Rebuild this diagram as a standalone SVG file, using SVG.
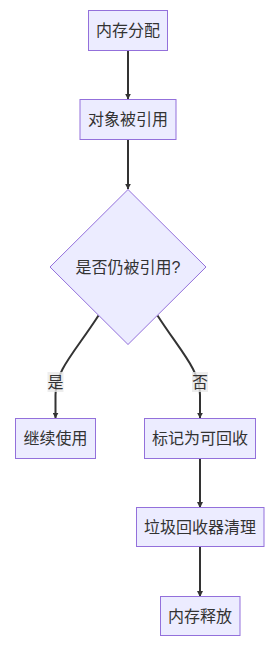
<svg xmlns="http://www.w3.org/2000/svg" width="270" height="648" viewBox="0 0 270 648">
<defs>
<style>
.node rect,.node polygon{fill:#ECECFF;stroke:#9370DB;stroke-width:1px}
.node text,.lbl text{font-family:"Liberation Sans","Noto Sans CJK SC",sans-serif;font-size:16px;fill:#333;text-anchor:middle;dominant-baseline:central}
.edge{fill:none;stroke:#333;stroke-width:2px}
.lbl rect{fill:#e8e8e8;opacity:0.8}
</style>
<marker id="arrow" viewBox="0 0 10 10" refX="9" refY="5" markerWidth="6" markerHeight="6" markerUnits="userSpaceOnUse" orient="auto">
<path d="M0,0 L10,5 L0,10 z" fill="#333"/>
</marker>
</defs>
<rect width="270" height="648" fill="#ffffff"/>
<g id="edges">
<path class="edge" d="M128,50.5 L128,99" marker-end="url(#arrow)"/>
<path class="edge" d="M128,139.5 L128,189" marker-end="url(#arrow)"/>
<path class="edge" d="M98.5,315.5 C75,352 55.5,370 55.5,395 L55.5,418" marker-end="url(#arrow)"/>
<path class="edge" d="M157.5,315.5 C181,352 200,370 200,395 L200,418" marker-end="url(#arrow)"/>
<path class="edge" d="M200,458.5 L200,507.5" marker-end="url(#arrow)"/>
<path class="edge" d="M200,547 L200,596.5" marker-end="url(#arrow)"/>
</g>
<g id="edge-labels">
<g class="lbl" id="label-yes"><rect x="47.5" y="372" width="16" height="20"/><text x="55.5" y="382">是</text></g>
<g class="lbl" id="label-no"><rect x="192" y="372" width="16" height="20"/><text x="200" y="382">否</text></g>
</g>
<g class="node" id="n1"><rect x="88.5" y="10.5" width="79" height="40"/><text x="128" y="30.5">内存分配</text></g>
<g class="node" id="n2"><rect x="80" y="99.5" width="96" height="40"/><text x="128" y="119.5">对象被引用</text></g>
<g class="node" id="n3"><polygon points="128,189.5 206,267 128,344.5 50,267"/><text x="128" y="267">是否仍被引用?</text></g>
<g class="node" id="n4"><rect x="15.5" y="418.5" width="80" height="40"/><text x="55.5" y="438.5">继续使用</text></g>
<g class="node" id="n5"><rect x="144.5" y="418.5" width="111" height="40"/><text x="200" y="438.5">标记为可回收</text></g>
<g class="node" id="n6"><rect x="136.5" y="507.5" width="127.5" height="39"/><text x="200" y="527">垃圾回收器清理</text></g>
<g class="node" id="n7"><rect x="160.5" y="596.5" width="79.5" height="39"/><text x="200" y="616">内存释放</text></g>
</svg>
